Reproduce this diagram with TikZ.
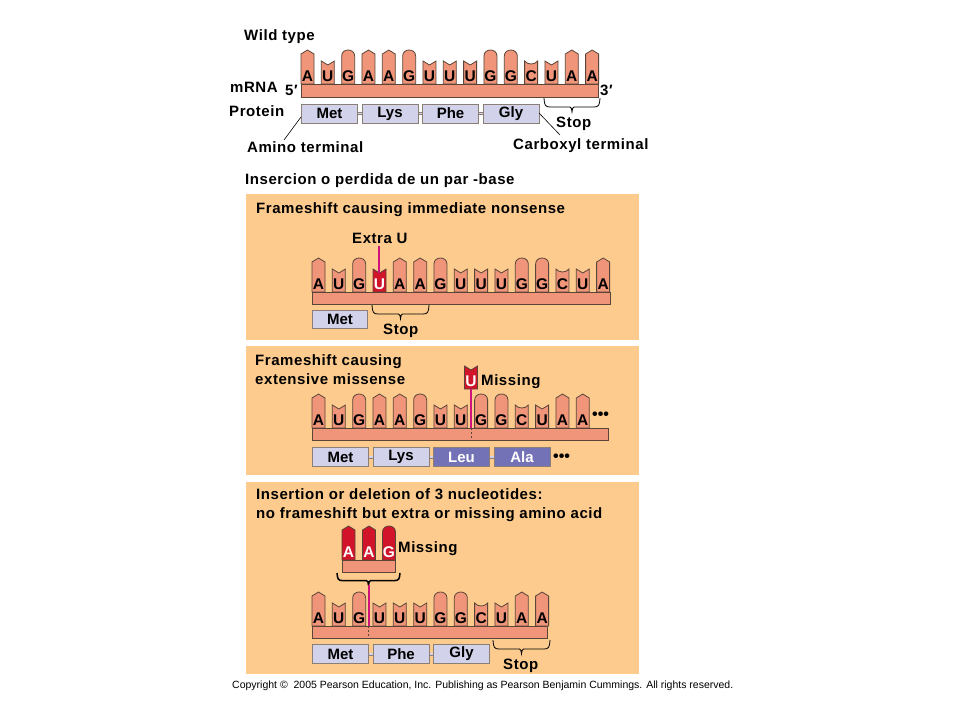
\documentclass[tikz,border=0pt]{standalone}
\usepackage{fontspec}
\setmainfont{Liberation Sans}
\newfontfamily\lsp[LetterSpace=3.8]{Liberation Sans}
\definecolor{panelc}{HTML}{FDCB8E}
\definecolor{basec}{HTML}{F0957A}
\definecolor{edgec}{HTML}{5A4638}
\definecolor{protc}{HTML}{D2D2EA}
\definecolor{protd}{HTML}{7472B6}
\definecolor{redc}{HTML}{D2142B}
\definecolor{magc}{HTML}{D0127C}
\tikzset{
 lab/.style={anchor=base west,inner sep=0pt,font=\lsp\bfseries\fontsize{15}{15}\selectfont},
 let/.style={inner sep=0pt,font=\bfseries\fontsize{15.5}{15.5}\selectfont},
 ntb/.style={draw=edgec,line width=0.8pt},
 bar/.style={draw=edgec,line width=0.8pt,fill=basec},
 prot/.style={draw=edgec!70,line width=1pt,fill=protc,minimum height=19pt,minimum width=56pt,inner sep=0pt,font=\bfseries\fontsize{15}{15}\selectfont},
 protdark/.style={prot,fill=protd,text=white},
 link/.style={draw=edgec!70,line width=0.7pt,double=protc,double distance=1.6pt},
 pan/.style={fill=panelc,draw=none},
 brc/.style={draw=black,line width=0.8pt},
 leader/.style={draw=black,line width=0.6pt},
 mag/.style={draw=magc,line width=2pt},
 magdash/.style={draw=edgec,line width=0.8pt,dash pattern=on 2pt off 2pt},
 dots/.style={anchor=base west,inner sep=0pt,font=\bfseries\fontsize{16}{16}\selectfont},
}
% shapes: #1 x, #2 y bottom, #3 fill
\newcommand\ntA[3]{\path[ntb,fill=#3] (#1,#2) -- ++(0,-30) -- ++(6.5,-4) -- ++(6.5,4) -- ++(0,30) -- cycle;}
\newcommand\ntG[3]{\path[ntb,fill=#3] (#1,#2) -- ++(0,-28) .. controls +(0,-8) and +(0,-8) .. ++(13,0) -- ++(0,28) -- cycle;}
\newcommand\ntU[3]{\path[ntb,fill=#3] (#1,#2) -- ++(0,-23) -- ++(6.5,4) -- ++(6.5,-4) -- ++(0,23) -- cycle;}
\newcommand\ntC[3]{\path[ntb,fill=#3] (#1,#2) -- ++(0,-23) .. controls +(3,4) and +(-3,4) .. ++(13,0) -- ++(0,23) -- cycle;}
% strand: #1 name, #2 x0, #3 y bottom, #4 letters
\newcommand\strand[4]{%
 \foreach \L [count=\i from 0] in {#4} {
  \pgfmathsetmacro\xx{#2+20.33*\i}
  \csname nt\L\endcsname{\xx}{#3}{basec}
  \node[let] (#1-\i) at (\xx+6.5,#3-8) {\L};
 }}
% square brace: #1 options, #2 start coordinate, #3 width
\newcommand\sqbrace[3]{%
 \pgfmathsetmacro\hh{(#3-16)/2}
 \draw[brc,#1] (#2) .. controls +(0.5,7) and +(-5,0) .. ++(6,9) -- ++(\hh,0)
  .. controls +(1.5,0) and +(-0.5,-3) .. ++(2,5)
  .. controls +(0.5,-3) and +(-1.5,0) .. ++(2,-5) -- ++(\hh,0)
  .. controls +(5,0) and +(-0.5,7) .. ++(6,-9);}
\begin{document}
\begin{tikzpicture}[x=1pt,y=-1pt]
\useasboundingbox[fill=white] (0,0) rectangle (960,720);
% panels
\path[pan] (246,194) rectangle (639,340);
\path[pan] (246,346) rectangle (639,475);
\path[pan] (246,482) rectangle (639,674);

% ---- wild type
\node[lab] (wt) at (244,40) {Wild type};
\strand{w}{301}{84}{A,U,G,A,A,G,U,U,U,G,G,C,U,A,A}
\path[bar] (301,84) rectangle (598,97);
\node[lab] (mrna) at (230,92) {mRNA};
\node[lab] (five) at (285,95) {5′};
\node[lab] (three) at (600,95) {3′};
\node[lab] (protein) at (229,116) {Protein};
\node[prot,anchor=north west] (wa) at (301,103.5) {Met};
\node[prot,anchor=north west] (wb) at (361.5,103.5) {\raisebox{2pt}{Lys}};
\node[prot,anchor=north west] (wc) at (422,103.5) {Phe};
\node[prot,anchor=north west] (wd) at (482.5,103.5) {\raisebox{2pt}{Gly}};
\draw[link] (wa) -- (wb);
\draw[link] (wb) -- (wc);
\draw[link] (wc) -- (wd);
\coordinate (s1a) at (544,98);
\sqbrace{}{s1a}{56}
\node[lab] (stop1) at (556,127) {Stop};
\node[lab] (amino) at (247,152) {Amino terminal};
\node[lab] (carb) at (513,149) {Carboxyl terminal};
\coordinate (am1) at (301,117);
\coordinate (am2) at (284,140);
\coordinate (cb1) at (539,113);
\coordinate (cb2) at (560,135);
\draw[leader] (am1) -- (am2);
\draw[leader] (cb1) -- (cb2);
\node[lab] (ins) at (245,184) {Insercion o perdida de un par -base};

% ---- panel 1
\node[lab] (p1t) at (256,213) {Frameshift causing immediate nonsense};
\node[lab] (p1x) at (352,243) {Extra U};
\strand{a}{312}{292}{A,U,G}
\ntU{373}{292}{redc}
\node[let,text=white] (aU) at (379.5,284) {U};
\strand{e}{393.32}{292}{A,A,G,U,U,U,G,G,C,U,A}
\path[bar] (312,292) rectangle (610,304);
\coordinate (al1) at (379,246);
\coordinate (al2) at (379,273);
\draw[mag] (al1) -- (al2);
\node[prot,anchor=north west,minimum width=55pt,minimum height=18pt] (am) at (312,310) {Met};
\coordinate (s2a) at (372,305);
\sqbrace{}{s2a}{57}
\node[lab] (stop2) at (383,334) {Stop};

% ---- panel 2
\node[lab] (p2t) at (255,365) {Frameshift causing};
\node[lab] (p2u) at (255,384) {extensive missense};
\strand{b}{312}{428}{A,U,G,A,A,G,U,U,G,G,C,U,A,A}
\path[bar] (312,428) rectangle (608,440);
\ntU{464.5}{389}{redc}
\node[let,text=white] (bU) at (471,381) {U};
\node[lab] (miss1) at (481,385) {Missing};
\coordinate (bl1) at (471,389);
\coordinate (bl2) at (471,428);
\coordinate (bl3) at (471,440);
\draw[mag] (bl1) -- (bl2);
\draw[magdash] (bl2) -- (bl3);
\node[dots] (bd1) at (592,419) {•••};
\node[prot,anchor=north west] (ba) at (312,447) {Met};
\node[prot,anchor=north west] (bb) at (372.5,447) {Lys};
\node[protdark,anchor=north west] (bc) at (433,447) {Leu};
\node[protdark,anchor=north west] (bd) at (493.5,447) {Ala};
\draw[link] (ba) -- (bb);
\draw[link] (bb) -- (bc);
\draw[link] (bc) -- (bd);
\node[dots] (bd2) at (553,461) {•••};

% ---- panel 3
\node[lab] (p3t) at (256,499) {Insertion or deletion of 3 nucleotides:};
\node[lab] (p3u) at (256,518) {no frameshift but extra or missing amino acid};
\ntA{342}{560}{redc}
\ntA{362.5}{560}{redc}
\ntG{382.5}{560}{redc}
\node[let,text=white] (r1) at (348.5,552) {A};
\node[let,text=white] (r2) at (369,552) {A};
\node[let,text=white] (r3) at (389,552) {G};
\path[bar] (342,560) rectangle (395,572);
\node[lab] (miss2) at (398,552) {Missing};
\coordinate (s3a) at (337,573);
\sqbrace{line width=1.5pt,yscale=0.85}{s3a}{63}
\strand{c}{312}{626}{A,U,G,U,U,U,G,G,C,U,A,A}
\path[bar] (312,626) rectangle (547,638);
\coordinate (cl1) at (368.5,585);
\coordinate (cl2) at (368.5,626);
\coordinate (cl3) at (368.5,638);
\draw[mag] (cl1) -- (cl2);
\draw[magdash] (cl2) -- (cl3);
\node[prot,anchor=north west] (ca) at (312,644) {Met};
\node[prot,anchor=north west] (cb) at (372.5,644) {Phe};
\node[prot,anchor=north west] (cc) at (433,644) {\raisebox{2pt}{Gly}};
\draw[link] (ca) -- (cb);
\draw[link] (cb) -- (cc);
\coordinate (s4a) at (493,640);
\sqbrace{}{s4a}{57}
\node[lab] (stop3) at (503,669) {Stop};

\node[anchor=base west,inner sep=0pt,font=\fontsize{10.5}{10.5}\selectfont] (copy) at (232,688) {Copyright \textcopyright\ \ 2005 Pearson Education, Inc. Publishing as Pearson Benjamin Cummings. All rights reserved.};
\end{tikzpicture}
\end{document}
